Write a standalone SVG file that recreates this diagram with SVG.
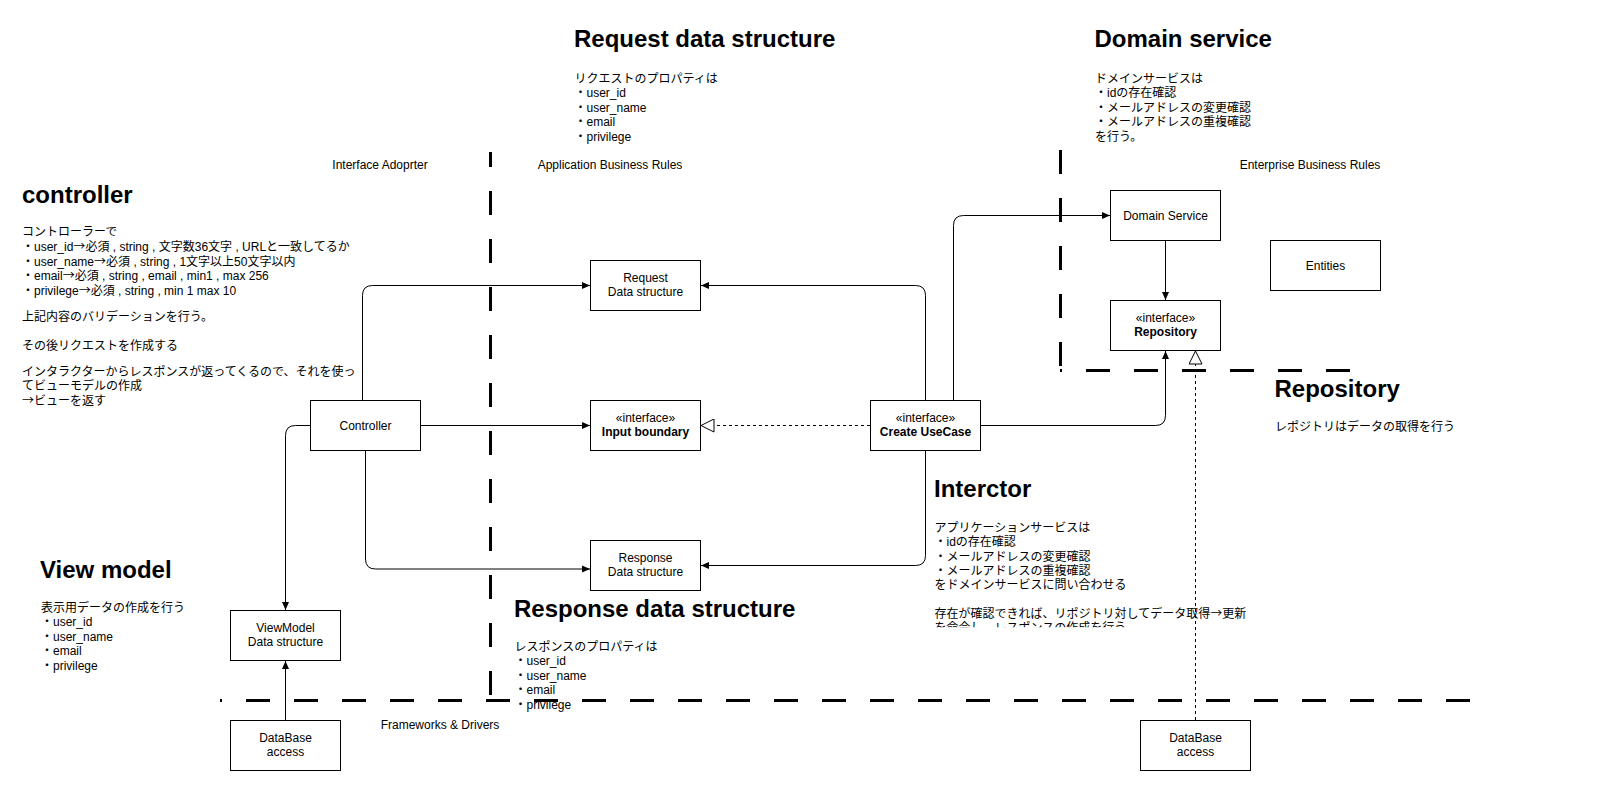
<svg xmlns="http://www.w3.org/2000/svg" width="1601" height="801" viewBox="0 0 1601 801">
<style>
text{font-family:"Liberation Sans",Arial,"Noto Sans CJK JP",sans-serif;fill:#000}
.t{font-size:24px;font-weight:bold}
.b{font-size:12px}
.n{font-size:12px;text-anchor:middle}
.nb{font-size:12px;text-anchor:middle;font-weight:bold}
.j{font-family:"Noto Sans CJK JP",sans-serif}
.box{fill:#fff;stroke:#000;stroke-width:1}
.layer{fill:none;stroke:#000;stroke-width:3;stroke-dasharray:24 24}
.c{fill:none;stroke:#000;stroke-width:1}
.d{fill:none;stroke:#000;stroke-width:1;stroke-dasharray:3 3}
</style>
<defs>
<marker id="arr" viewBox="0 0 8 8" refX="8" refY="4" markerWidth="8" markerHeight="8" markerUnits="userSpaceOnUse" orient="auto"><path d="M0,0.5 L8,4 L0,7.5 z" fill="#000" stroke="none"/></marker>
<marker id="tri" viewBox="0 0 14 14" refX="13.5" refY="7" markerWidth="14" markerHeight="14" markerUnits="userSpaceOnUse" orient="auto"><path d="M0.5,0.5 L13.5,7 L0.5,13.5 z" fill="#fff" stroke="#000" stroke-width="1" stroke-dasharray="none"/></marker>
<clipPath id="clipI"><rect x="920" y="460" width="420" height="167.3"/></clipPath>
</defs>
<rect width="1601" height="801" fill="#fff"/>

<g id="texts">
<text class="t" x="22" y="203">controller</text>
<text class="b" x="22">
<tspan x="22" y="236">コントローラーで</tspan>
<tspan x="22" y="251">・user_id<tspan class="j">→</tspan>必須 , string , 文字数36文字 , URLと一致してるか</tspan>
<tspan x="22" y="265.5">・user_name<tspan class="j">→</tspan>必須 , string , 1文字以上50文字以内</tspan>
<tspan x="22" y="280">・email<tspan class="j">→</tspan>必須 , string , email , min1 , max 256</tspan>
<tspan x="22" y="294.5">・privilege<tspan class="j">→</tspan>必須 , string , min 1 max 10</tspan>
<tspan x="22" y="321">上記内容のバリデーションを行う。</tspan>
<tspan x="22" y="349.5">その後リクエストを作成する</tspan>
<tspan x="22" y="375.5">インタラクターからレスポンスが返ってくるので、それを使っ</tspan>
<tspan x="22" y="390">てビューモデルの作成</tspan>
<tspan x="22" y="404.5" class="j">→ビューを返す</tspan>
</text>

<text class="t" x="574" y="47">Request data structure</text>
<text class="b">
<tspan x="574.5" y="83">リクエストのプロパティは</tspan>
<tspan x="574.5" y="97.4">・user_id</tspan>
<tspan x="574.5" y="111.8">・user_name</tspan>
<tspan x="574.5" y="126.2">・email</tspan>
<tspan x="574.5" y="140.6">・privilege</tspan>
</text>

<text class="t" x="1094.5" y="47">Domain service</text>
<text class="b">
<tspan x="1095" y="83">ドメインサービスは</tspan>
<tspan x="1095" y="97.4">・idの存在確認</tspan>
<tspan x="1095" y="111.8">・メールアドレスの変更確認</tspan>
<tspan x="1095" y="126.2">・メールアドレスの重複確認</tspan>
<tspan x="1095" y="140.6">を行う。</tspan>
</text>

<text class="n" x="380" y="169">Interface Adoprter</text>
<text class="n" x="610" y="169">Application Business Rules</text>
<text class="n" x="1310" y="169">Enterprise Business Rules</text>

<text class="t" x="1274.5" y="397">Repository</text>
<text class="b" x="1275" y="431">レポジトリはデータの取得を行う</text>

<text class="t" x="934" y="497">Interctor</text>
<g clip-path="url(#clipI)">
<text class="b">
<tspan x="934.5" y="532">アプリケーションサービスは</tspan>
<tspan x="934.5" y="546.3">・idの存在確認</tspan>
<tspan x="934.5" y="560.6">・メールアドレスの変更確認</tspan>
<tspan x="934.5" y="574.9">・メールアドレスの重複確認</tspan>
<tspan x="934.5" y="589.2">をドメインサービスに問い合わせる</tspan>
<tspan x="934.5" y="617.8" class="j">存在が確認できれば、リポジトリ対してデータ取得→更新</tspan>
<tspan x="934.5" y="632.1">を命令し、レスポンスの作成を行う</tspan>
</text>
</g>

<text class="t" x="40" y="578">View model</text>
<text class="b">
<tspan x="41" y="611.5">表示用データの作成を行う</tspan>
<tspan x="41" y="626">・user_id</tspan>
<tspan x="41" y="640.5">・user_name</tspan>
<tspan x="41" y="655">・email</tspan>
<tspan x="41" y="669.5">・privilege</tspan>
</text>

<text class="t" x="514" y="617">Response data structure</text>
<text class="b">
<tspan x="514.5" y="651">レスポンスのプロパティは</tspan>
<tspan x="514.5" y="665.3">・user_id</tspan>
<tspan x="514.5" y="679.7">・user_name</tspan>
<tspan x="514.5" y="694.1">・email</tspan>
<tspan x="514.5" y="708.5">・privilege</tspan>
</text>

<text class="n" x="440" y="729">Frameworks &amp; Drivers</text>
</g>

<g id="layers">
<path class="layer" d="M490.5 695 V152"/>
<path class="layer" d="M1470 700.5 H220"/>
<path class="layer" d="M1060.5 150 V370"/>
<path class="layer" d="M1350 370.5 H1060"/>
</g>

<g id="node-request"><rect class="box" x="590.5" y="260.5" width="110" height="50"/><text class="n" x="645.5" y="281.5">Request</text><text class="n" x="645.5" y="296">Data structure</text></g>
<g id="node-controller"><rect class="box" x="310.5" y="400.5" width="110" height="50"/><text class="n" x="365.5" y="429.5">Controller</text></g>
<g id="node-input"><rect class="box" x="590.5" y="400.5" width="110" height="50"/><text class="n" x="645.5" y="421.5">«interface»</text><text class="nb" x="645.5" y="436">Input boundary</text></g>
<g id="node-response"><rect class="box" x="590.5" y="540.5" width="110" height="50"/><text class="n" x="645.5" y="561.5">Response</text><text class="n" x="645.5" y="576">Data structure</text></g>
<g id="node-usecase"><rect class="box" x="870.5" y="400.5" width="110" height="50"/><text class="n" x="925.5" y="421.5">«interface»</text><text class="nb" x="925.5" y="436">Create UseCase</text></g>
<g id="node-domain"><rect class="box" x="1110.5" y="190.5" width="110" height="50"/><text class="n" x="1165.5" y="219.5">Domain Service</text></g>
<g id="node-entities"><rect class="box" x="1270.5" y="240.5" width="110" height="50"/><text class="n" x="1325.5" y="269.5">Entities</text></g>
<g id="node-repository"><rect class="box" x="1110.5" y="300.5" width="110" height="50"/><text class="n" x="1165.5" y="321.5">«interface»</text><text class="nb" x="1165.5" y="336">Repository</text></g>
<g id="node-viewmodel"><rect class="box" x="230.5" y="610.5" width="110" height="50"/><text class="n" x="285.5" y="631.5">ViewModel</text><text class="n" x="285.5" y="646">Data structure</text></g>
<g id="node-db-left"><rect class="box" x="230.5" y="720.5" width="110" height="50"/><text class="n" x="285.5" y="741.5">DataBase</text><text class="n" x="285.5" y="756">access</text></g>
<g id="node-db-right"><rect class="box" x="1140.5" y="720.5" width="110" height="50"/><text class="n" x="1195.5" y="741.5">DataBase</text><text class="n" x="1195.5" y="756">access</text></g>

<g id="connectors">
<path class="c" marker-end="url(#arr)" d="M362.5 400 V295.5 Q362.5 285.5 372.5 285.5 H590"/>
<path class="c" marker-end="url(#arr)" d="M420 425.5 H590"/>
<path class="c" marker-end="url(#arr)" d="M365.5 451 V559 Q365.5 569 375.5 569 H590"/>
<path class="c" marker-end="url(#arr)" d="M310 425.5 H295.5 Q285.5 425.5 285.5 435.5 V610"/>
<path class="c" marker-end="url(#arr)" d="M285.5 720 V661"/>
<path class="c" marker-end="url(#arr)" d="M925.5 400 V295.5 Q925.5 285.5 915.5 285.5 H701"/>
<path class="d" marker-end="url(#tri)" d="M870 425.5 H701"/>
<path class="c" marker-end="url(#arr)" d="M925.5 451 V555.5 Q925.5 565.5 915.5 565.5 H701"/>
<path class="c" marker-end="url(#arr)" d="M953.5 400 V225.5 Q953.5 215.5 963.5 215.5 H1110"/>
<path class="c" marker-end="url(#arr)" d="M981 425.5 H1155.5 Q1165.5 425.5 1165.5 415.5 V351"/>
<path class="c" marker-end="url(#arr)" d="M1165.5 241 V300"/>
<path class="d" marker-end="url(#tri)" d="M1195.5 720 V351"/>
</g>
</svg>
